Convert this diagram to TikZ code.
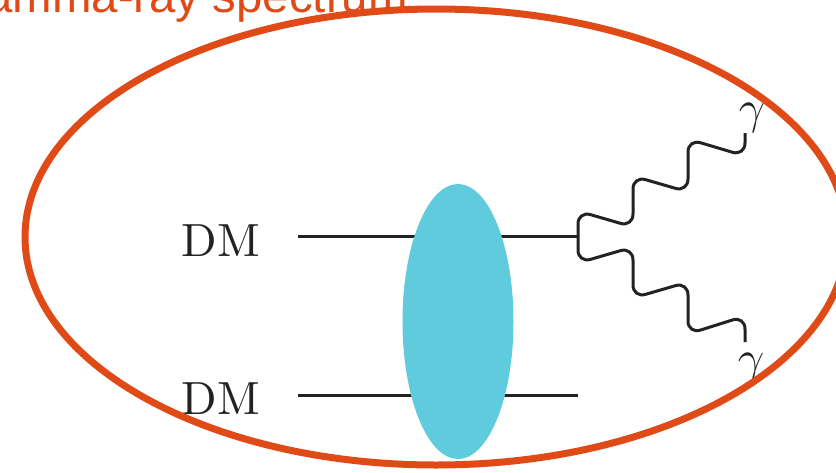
\RequirePackage{fix-cm}
\documentclass[tikz,border=0pt]{standalone}
\usepackage{fontspec}
\usetikzlibrary{shapes.geometric}
\newfontfamily\labelsans{Liberation Sans}
\newfontfamily\dmfont{lmroman10-regular.otf}
\definecolor{rim}{RGB}{224,74,23}
\definecolor{blob}{RGB}{96,203,220}
\definecolor{ink}{RGB}{34,34,34}
\begin{document}
\begin{tikzpicture}[x=1pt,y=-1pt,
  prop/.style={draw=ink,line width=3pt},
  photon/.style={draw=ink,line width=3pt,rounded corners=13pt},
  dmlabel/.style={inner sep=0pt,anchor=base,text=ink,font=\dmfont\fontsize{46.5}{56}\selectfont},
  glabel/.style={inner sep=0pt,anchor=base,text=ink,font=\fontsize{47}{56}\selectfont}]
\useasboundingbox (0,0) rectangle (836,472);
\clip (0,0) rectangle (836,472);
% title
\node[inner sep=0pt,anchor=base east,text=rim,font=\labelsans\fontsize{47.4}{56}\selectfont] (title) at (408,12) {Gamma-ray spectrum};
% labels
\node[dmlabel] (dm1) at (221,256) {DM};
\node[dmlabel] (dm2) at (221,414) {DM};
\node[glabel] (g1) at (752,123) {$\gamma$};
\node[glabel] (g2) at (751,373) {$\gamma$};
% propagators
\coordinate (a1) at (298,236);
\coordinate (v1) at (578,236);
\coordinate (a2) at (298,395);
\coordinate (b2) at (578,395);
\draw[prop] (a1) -- (v1);
\draw[prop] (a2) -- (b2);
% photons
\coordinate (e1) at (745,133);
\coordinate (e2) at (745,342);
\draw[photon] (v1) -- (578,211) -- (633,227) -- (633,176) -- (688,192) -- (688,139) -- (745,156) -- (e1);
\draw[photon] (v1) -- (578,263) -- (633,247) -- (633,298) -- (688,282) -- (688,334) -- (745,316) -- (e2);
% blob
\node[draw=none,fill=blob,ellipse,minimum width=111pt,minimum height=275pt,inner sep=0pt] (blob) at (458,321.5) {};
% rim ellipse
\draw[rim,line width=7pt] (436,237) ellipse [x radius=411, y radius=228];
\end{tikzpicture}
\end{document}
